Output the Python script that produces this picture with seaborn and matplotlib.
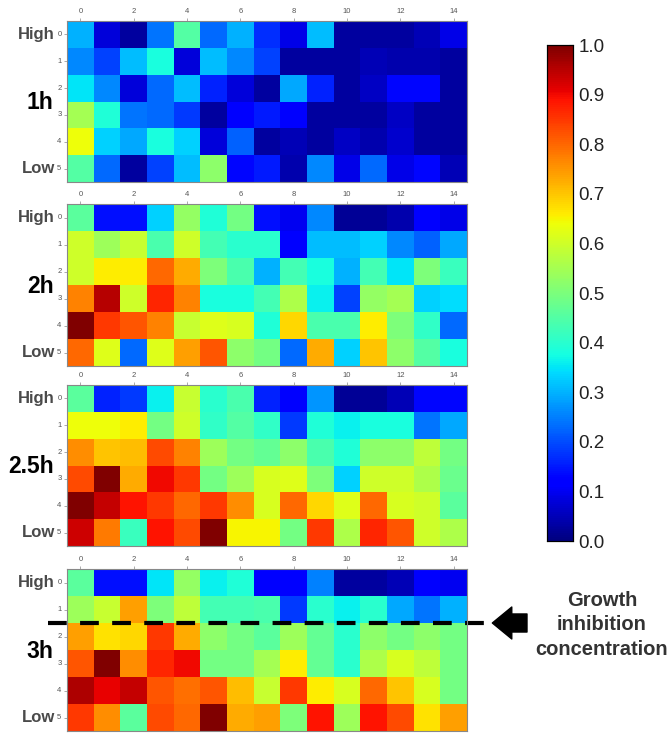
import numpy as np
import pandas as pd
import matplotlib
matplotlib.use('Agg')
import matplotlib.pyplot as plt
import seaborn as sns

sns.set_style('white')
plt.rcParams['font.family'] = ['Liberation Sans', 'DejaVu Sans']

# ---- data: normalised growth, rows = concentration (High -> Low), cols = wells 0-14
vals_1h = [
    [0.30, 0.08, 0.03, 0.24, 0.45, 0.23, 0.30, 0.17, 0.09, 0.31, 0.03, 0.03, 0.03, 0.05, 0.09],
    [0.26, 0.19, 0.31, 0.38, 0.08, 0.31, 0.26, 0.19, 0.03, 0.03, 0.03, 0.05, 0.04, 0.04, 0.03],
    [0.35, 0.26, 0.08, 0.23, 0.31, 0.16, 0.08, 0.03, 0.29, 0.16, 0.03, 0.06, 0.13, 0.13, 0.03],
    [0.55, 0.39, 0.24, 0.23, 0.18, 0.03, 0.12, 0.15, 0.12, 0.03, 0.03, 0.03, 0.06, 0.03, 0.03],
    [0.64, 0.33, 0.29, 0.38, 0.33, 0.08, 0.22, 0.03, 0.05, 0.03, 0.06, 0.04, 0.07, 0.03, 0.03],
    [0.45, 0.23, 0.03, 0.19, 0.31, 0.52, 0.13, 0.15, 0.04, 0.26, 0.09, 0.23, 0.09, 0.13, 0.05],
]
vals_2h = [
    [0.46, 0.14, 0.14, 0.33, 0.53, 0.39, 0.49, 0.14, 0.10, 0.26, 0.02, 0.02, 0.04, 0.11, 0.09],
    [0.60, 0.54, 0.59, 0.44, 0.60, 0.43, 0.40, 0.40, 0.12, 0.31, 0.31, 0.33, 0.26, 0.22, 0.29],
    [0.60, 0.66, 0.66, 0.80, 0.73, 0.50, 0.44, 0.30, 0.43, 0.38, 0.30, 0.43, 0.35, 0.50, 0.42],
    [0.77, 0.95, 0.60, 0.87, 0.77, 0.38, 0.38, 0.43, 0.56, 0.36, 0.19, 0.53, 0.55, 0.33, 0.34],
    [1.00, 0.85, 0.82, 0.77, 0.59, 0.62, 0.61, 0.39, 0.68, 0.44, 0.44, 0.66, 0.50, 0.41, 0.23],
    [0.80, 0.62, 0.23, 0.62, 0.74, 0.82, 0.52, 0.49, 0.23, 0.73, 0.33, 0.70, 0.52, 0.45, 0.38],
]
vals_25h = [
    [0.46, 0.16, 0.18, 0.36, 0.59, 0.40, 0.44, 0.16, 0.12, 0.27, 0.02, 0.02, 0.05, 0.13, 0.13],
    [0.64, 0.64, 0.66, 0.49, 0.60, 0.41, 0.45, 0.41, 0.18, 0.39, 0.36, 0.38, 0.38, 0.24, 0.29],
    [0.76, 0.70, 0.71, 0.83, 0.77, 0.54, 0.49, 0.47, 0.52, 0.44, 0.39, 0.52, 0.52, 0.58, 0.49],
    [0.83, 1.00, 0.73, 0.90, 0.85, 0.49, 0.54, 0.61, 0.62, 0.50, 0.33, 0.60, 0.60, 0.56, 0.48],
    [1.00, 0.94, 0.89, 0.85, 0.80, 0.85, 0.76, 0.61, 0.80, 0.68, 0.62, 0.80, 0.61, 0.60, 0.46],
    [0.93, 0.78, 0.42, 0.89, 0.83, 1.00, 0.65, 0.65, 0.49, 0.85, 0.56, 0.87, 0.82, 0.60, 0.56],
]
vals_3h = [
    [0.46, 0.14, 0.14, 0.35, 0.53, 0.36, 0.39, 0.12, 0.12, 0.25, 0.03, 0.03, 0.05, 0.11, 0.10],
    [0.54, 0.59, 0.74, 0.50, 0.58, 0.43, 0.43, 0.44, 0.18, 0.40, 0.36, 0.40, 0.29, 0.24, 0.30],
    [0.74, 0.67, 0.68, 0.85, 0.73, 0.52, 0.49, 0.46, 0.54, 0.47, 0.40, 0.52, 0.49, 0.52, 0.49],
    [0.82, 1.00, 0.76, 0.87, 0.90, 0.49, 0.49, 0.55, 0.66, 0.47, 0.40, 0.56, 0.61, 0.58, 0.49],
    [0.96, 0.91, 0.94, 0.82, 0.79, 0.82, 0.71, 0.59, 0.85, 0.66, 0.61, 0.80, 0.70, 0.61, 0.49],
    [0.85, 0.76, 0.46, 0.83, 0.80, 1.00, 0.73, 0.74, 0.50, 0.89, 0.54, 0.89, 0.83, 0.67, 0.74],
]
time_labels = ['1h', '2h', '2.5h', '3h']
panels = [vals_1h, vals_2h, vals_25h, vals_3h]
cbar_ticks = [0.0, 0.1, 0.2, 0.3, 0.4, 0.5, 0.6, 0.7, 0.8, 0.9, 1.0]
inhibition_row = 2   # boundary in the 3h panel

W, H = 670, 743
fig = plt.figure(figsize=(W / 100, H / 100), dpi=100)

# pixel boxes (left, top, right, bottom) for each heatmap
boxes = [(67, 21, 467, 182), (67, 204, 467, 366), (67, 385, 467, 546), (67, 569, 467, 731)]
cax = fig.add_axes([547 / W, 1 - 541 / H, 26 / W, 496 / H])

for i, (vals, label, (l, t, r, b)) in enumerate(zip(panels, time_labels, boxes)):
    ax = fig.add_axes([l / W, 1 - b / H, (r - l) / W, (b - t) / H])
    df = pd.DataFrame(vals)
    sns.heatmap(df, ax=ax, cmap='jet', vmin=0, vmax=1,
                cbar=(i == 0), cbar_ax=cax if i == 0 else None,
                xticklabels=2, yticklabels=1)
    ax.xaxis.tick_top()
    ax.tick_params(labelsize=5.5, labelcolor='#555555', length=2, width=0.5,
                   color='#888888', pad=2, top=True, bottom=False, left=True)
    ax.set_yticklabels(ax.get_yticklabels(), rotation=0)
    ax.set_xticklabels(ax.get_xticklabels(), rotation=0)
    for s in ax.spines.values():
        s.set_visible(True)
        s.set_color('#888888')
        s.set_linewidth(0.8)

    ax.text(-0.45, 0.5, 'High', ha='right', va='center', fontsize=12,
            fontweight='bold', color='#4a4a4a')
    ax.text(-0.45, 5.5, 'Low', ha='right', va='center', fontsize=12,
            fontweight='bold', color='#4a4a4a')
    ax.text(-0.5, 3.05, label, ha='right', va='center', fontsize=16.5,
            fontweight='bold', color='black')

    if i == 3:
        ax.plot([-0.7, 15.85], [inhibition_row, inhibition_row], color='black',
                lw=3, linestyle=(0, (4.5, 3.2)), clip_on=False)
        ax.annotate('', xy=(15.95, inhibition_row), xytext=(17.25, inhibition_row),
                    arrowprops=dict(arrowstyle='simple,head_length=1.4,head_width=2.3,tail_width=1.3',
                                    color='black', shrinkA=0, shrinkB=0),
                    annotation_clip=False)

cax.set_yticks(cbar_ticks)
cax.set_yticklabels([f'{v:.1f}' for v in cbar_ticks])
cax.tick_params(labelsize=13.5, labelcolor='#222222', length=3, direction='in', pad=4)
for s in cax.spines.values():
    s.set_visible(True)
    s.set_color('black')
    s.set_linewidth(0.8)

fig.text(602 / W, 1 - 625 / H, 'Growth\ninhibition\nconcentration', ha='center',
         va='center', fontsize=14.5, fontweight='bold', color='#333333', linespacing=1.35)

fig.savefig('out.png', dpi=100, facecolor='white')
